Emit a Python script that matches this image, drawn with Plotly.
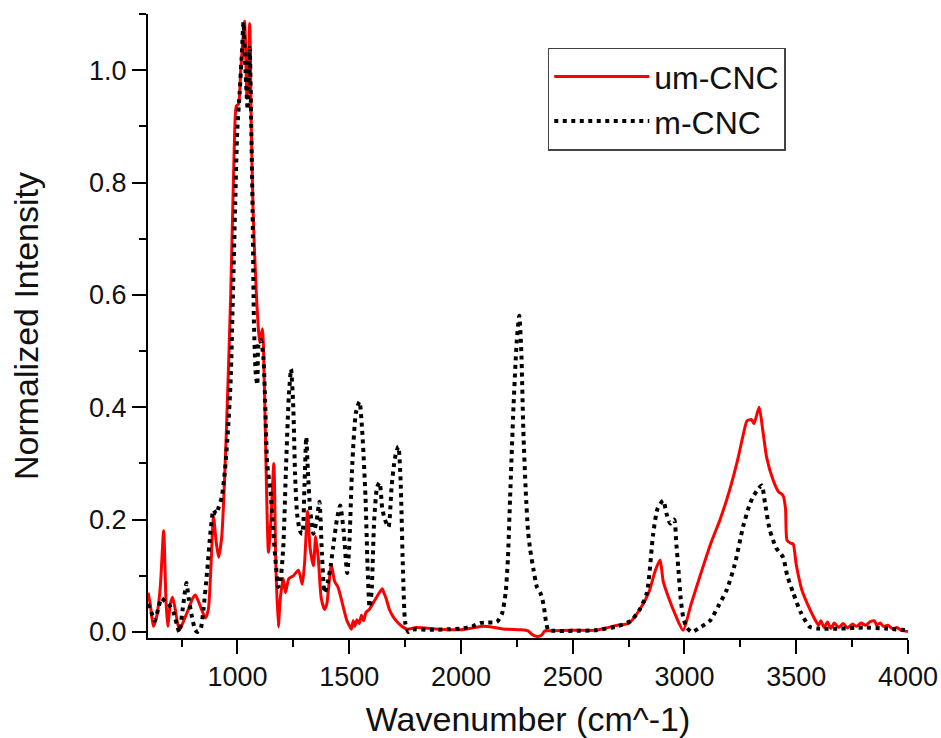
import plotly.graph_objects as go

# um-CNC (red solid)
um_x = [600, 610, 624, 640, 655, 670, 680, 688, 700, 710, 722, 740, 760, 780, 800, 812, 830, 857, 870, 882,
        893, 905, 916, 930, 950, 970, 985, 995, 1005, 1015, 1032, 1043, 1055, 1062, 1070, 1085, 1100, 1112,
        1120, 1139, 1150, 1163, 1172, 1183, 1192, 1205, 1215, 1230, 1250, 1273, 1290, 1300, 1314, 1325, 1340,
        1350, 1362, 1375, 1390, 1400, 1420, 1435, 1450, 1470, 1490, 1500, 1510, 1518, 1525, 1535, 1545, 1555,
        1565, 1575, 1590, 1605, 1620, 1635, 1648, 1655, 1665, 1680, 1700, 1730, 1760, 1800, 1900, 2000, 2050,
        2100, 2150, 2200, 2270, 2300, 2320, 2340, 2360, 2375, 2400, 2500, 2600, 2650, 2700, 2750, 2800, 2840,
        2870, 2891, 2905, 2930, 2960, 2994, 3030, 3070, 3120, 3159, 3200, 3240, 3265, 3280, 3300, 3311, 3334,
        3350, 3368, 3397, 3420, 3441, 3452, 3459, 3475, 3486, 3500, 3525, 3550, 3580, 3600, 3610, 3625, 3640,
        3655, 3670, 3690, 3710, 3730, 3750, 3770, 3790, 3810, 3830, 3850, 3860, 3875, 3890, 3910, 3930, 3950,
        3970, 4000]
um_y = [0.07, 0.05, 0.01, 0.03, 0.08, 0.18, 0.06, 0.01, 0.05, 0.062, 0.04, 0.003, 0.02, 0.04, 0.06, 0.066,
        0.05, 0.025, 0.04, 0.12, 0.205, 0.16, 0.133, 0.17, 0.35, 0.6, 0.85, 0.936, 0.94, 1.0, 1.087, 0.95,
        1.083, 0.9, 0.75, 0.6, 0.515, 0.54, 0.45, 0.142, 0.2, 0.30, 0.12, 0.009, 0.06, 0.095, 0.07, 0.095,
        0.10, 0.11, 0.085, 0.12, 0.215, 0.15, 0.118, 0.17, 0.13, 0.06, 0.04, 0.05, 0.12, 0.09, 0.08, 0.05,
        0.02, 0.012, 0.005, 0.02, 0.01, 0.022, 0.015, 0.03, 0.02, 0.035, 0.04, 0.05, 0.06, 0.07, 0.077, 0.07,
        0.06, 0.04, 0.025, 0.012, 0.005, 0.008, 0.005, 0.004, 0.007, 0.01, 0.008, 0.005, 0.004, 0.002, -0.005,
        -0.008, -0.006, 0.002, 0.002, 0.003, 0.003, 0.007, 0.012, 0.015, 0.04, 0.07, 0.11, 0.128, 0.09, 0.06,
        0.03, 0.003, 0.05, 0.10, 0.16, 0.20, 0.25, 0.31, 0.355, 0.376, 0.378, 0.371, 0.40, 0.36, 0.31, 0.27,
        0.25, 0.243, 0.22, 0.163, 0.158, 0.157, 0.12, 0.075, 0.05, 0.025, 0.012, 0.02, 0.008, 0.018, 0.006,
        0.016, 0.008, 0.015, 0.007, 0.014, 0.01, 0.016, 0.012, 0.018, 0.02, 0.012, 0.016, 0.01, 0.012, 0.006,
        0.008, 0.003, 0.001]

# m-CNC (black dotted)
m_x = [600, 615, 630, 645, 660, 675, 691, 714, 728, 740, 755, 772, 782, 795, 810, 820, 835, 848, 865, 880,
       893, 905, 916, 930, 945, 958, 970, 980, 990, 999, 1010, 1020, 1027, 1036, 1046, 1055, 1062, 1068, 1074,
       1082, 1089, 1094, 1105, 1116, 1125, 1133, 1148, 1160, 1172, 1183, 1192, 1205, 1218, 1230, 1240, 1250,
       1258, 1267, 1280, 1290, 1300, 1308, 1315, 1325, 1340, 1355, 1367, 1378, 1390, 1405, 1418, 1428, 1445,
       1460, 1475, 1491, 1500, 1514, 1530, 1546, 1558, 1573, 1582, 1591, 1600, 1612, 1625, 1636, 1648, 1660,
       1676, 1690, 1705, 1720, 1730, 1740, 1751, 1765, 1780, 1800, 1850, 1900, 1950, 2000, 2050, 2086, 2120,
       2161, 2184, 2200, 2210, 2220, 2235, 2250, 2261, 2270, 2279, 2290, 2300, 2310, 2325, 2340, 2355, 2369,
       2380, 2391, 2420, 2500, 2600, 2700, 2760, 2800, 2832, 2860, 2880, 2905, 2920, 2936, 2954, 2963, 2972,
       2983, 2994, 3010, 3033, 3070, 3114, 3150, 3189, 3225, 3262, 3290, 3306, 3330, 3346, 3360, 3382, 3410,
       3441, 3460, 3486, 3520, 3561, 3600, 3700, 3800, 3900, 4000]
m_y = [0.05, 0.035, 0.02, 0.04, 0.06, 0.055, 0.05, 0.035, 0.015, 0.0, 0.04, 0.087, 0.06, 0.03, 0.005, 0.0,
       0.005, 0.04, 0.11, 0.18, 0.217, 0.21, 0.222, 0.24, 0.29, 0.36, 0.45, 0.6, 0.76, 0.89, 0.96, 1.03, 1.085,
       1.0, 0.93, 1.04, 0.9, 0.75, 0.55, 0.46, 0.44, 0.51, 0.52, 0.49, 0.40, 0.30, 0.25, 0.18, 0.12, 0.08, 0.09,
       0.15, 0.30, 0.42, 0.468, 0.40, 0.28, 0.21, 0.18, 0.175, 0.26, 0.347, 0.29, 0.22, 0.175, 0.20, 0.232,
       0.14, 0.07, 0.09, 0.12, 0.15, 0.20, 0.225, 0.18, 0.105, 0.15, 0.30, 0.39, 0.41, 0.36, 0.24, 0.12, 0.044,
       0.07, 0.20, 0.258, 0.266, 0.22, 0.20, 0.187, 0.26, 0.31, 0.33, 0.27, 0.12, 0.016, 0.0, 0.004, 0.005,
       0.004, 0.004, 0.005, 0.006, 0.01, 0.016, 0.017, 0.018, 0.033, 0.07, 0.13, 0.24, 0.40, 0.52, 0.563, 0.50,
       0.36, 0.25, 0.18, 0.146, 0.11, 0.08, 0.07, 0.05, 0.02, 0.003, 0.002, 0.002, 0.003, 0.01, 0.02, 0.04,
       0.07, 0.175, 0.22, 0.234, 0.21, 0.193, 0.2, 0.16, 0.116, 0.06, 0.027, 0.008, 0.0, 0.008, 0.02, 0.045,
       0.075, 0.12, 0.187, 0.225, 0.24, 0.255, 0.261, 0.23, 0.181, 0.15, 0.133, 0.1, 0.07, 0.035, 0.009,
       0.006, 0.006, 0.008, 0.006, 0.003]

x_tick_vals = [1000, 1500, 2000, 2500, 3000, 3500, 4000]
y_tick_vals = [0.0, 0.2, 0.4, 0.6, 0.8, 1.0]

FONT = "Arial, Liberation Sans, sans-serif"

fig = go.Figure()
fig.add_trace(go.Scatter(
    x=um_x, y=um_y, mode="lines", name="um-CNC",
    line=dict(color="#ff0000", width=3, shape="spline", smoothing=0.6),
))
fig.add_trace(go.Scatter(
    x=m_x, y=m_y, mode="lines", name="m-CNC",
    line=dict(color="#000000", width=4, dash="4px,4.5px", shape="spline", smoothing=0.6),
))

axis_common = dict(
    showline=True, linecolor="black", linewidth=2,
    ticks="outside", ticklen=14, tickwidth=2, tickcolor="black",
    showgrid=False, zeroline=False, mirror=False, automargin=False,
    tickfont=dict(family=FONT, size=27, color="#111"),
)

fig.update_layout(
    width=941, height=738,
    margin=dict(l=148, r=33, t=14, b=100),
    paper_bgcolor="white", plot_bgcolor="white",
    font=dict(family=FONT, color="#111"),
    xaxis=dict(
        range=[600, 4000], tickvals=x_tick_vals,
        minor=dict(dtick=250, tick0=0, ticklen=7, tickwidth=2, tickcolor="black", ticks="outside"),
        title=dict(text="Wavenumber (cm^-1)", font=dict(family=FONT, size=34, color="#111"), standoff=30),
        **axis_common,
    ),
    yaxis=dict(
        range=[-0.0107, 1.1001], tickvals=y_tick_vals, tickformat=".1f",
        minor=dict(dtick=0.1, tick0=0, ticklen=7, tickwidth=2, tickcolor="black", ticks="outside"),
        title=dict(text="Normalized Intensity", font=dict(family=FONT, size=34, color="#111"), standoff=40),
        **axis_common,
    ),
    legend=dict(
        x=0.526, y=0.946, xanchor="left", yanchor="top",
        bordercolor="#444", borderwidth=1.5, bgcolor="white",
        font=dict(family=FONT, size=32, color="#111"),
        itemwidth=95, tracegroupgap=0,
    ),
    showlegend=True,
)

fig.write_html("out.html")
